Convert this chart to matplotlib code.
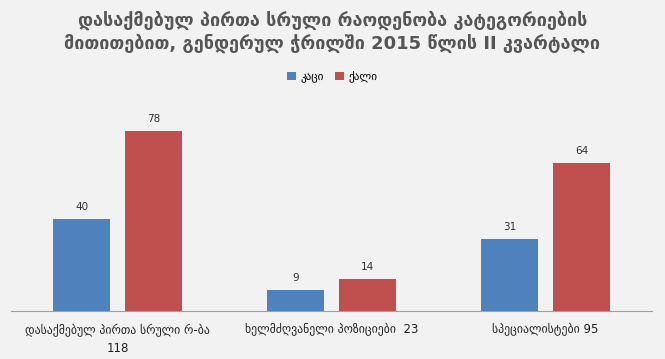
import numpy as np
import matplotlib.pyplot as plt

categories = ["დასაქმებულ პირთა სრული რ-ბა\n118", "ხელმძღვანელი პოზიციები  23", "სპეციალისტები 95"]
series_names = ["კაცი", "ქალი"]
men = [40, 9, 31]
women = [78, 14, 64]

title = "დასაქმებულ პირთა სრული რაოდენობა კატეგორიების\nმითითებით, გენდერულ ჭრილში 2015 წლის II კვარტალი"

bg = "#f2f2f2"
blue = "#4f81bd"
red = "#c0504d"

fig = plt.figure(figsize=(6.65, 3.59), dpi=100, facecolor=bg)
ax = fig.add_axes([0.0158, 0.1337, 0.9654, 0.5793], facecolor=bg)

x = np.arange(len(categories))
w = 0.266
off = 0.168

b1 = ax.bar(x - off, men, w, color=blue, label=series_names[0])
b2 = ax.bar(x + off, women, w, color=red, label=series_names[1])

for bars in (b1, b2):
    for r in bars:
        ax.annotate(f"{r.get_height():g}", (r.get_x() + r.get_width() / 2, r.get_height()),
                    xytext=(0, 5), textcoords="offset points", ha="center", va="bottom",
                    fontsize=7.5, color="#333333")

ax.set_xlim(-0.5, len(categories) - 0.5)
ax.set_ylim(0, 90)
ax.set_yticks([])
ax.set_xticks(x)
ax.set_xticklabels(categories, fontsize=8.5, color="#222222", linespacing=1.5)
ax.tick_params(axis="x", length=0, pad=9)
for s in ["top", "right", "left"]:
    ax.spines[s].set_visible(False)
ax.spines["bottom"].set_color("#a0a0a0")

fig.text(0.5, 0.97, title, ha="center", va="top", fontsize=13, fontweight="bold",
         color="#555555", linespacing=1.25)

fig.legend(loc="center", bbox_to_anchor=(0.5, 0.786), ncol=2, frameon=False,
           fontsize=8, handlelength=0.8, handleheight=0.8, columnspacing=1.0,
           handletextpad=0.4)

fig.savefig("out.png", dpi=100, facecolor=bg)
